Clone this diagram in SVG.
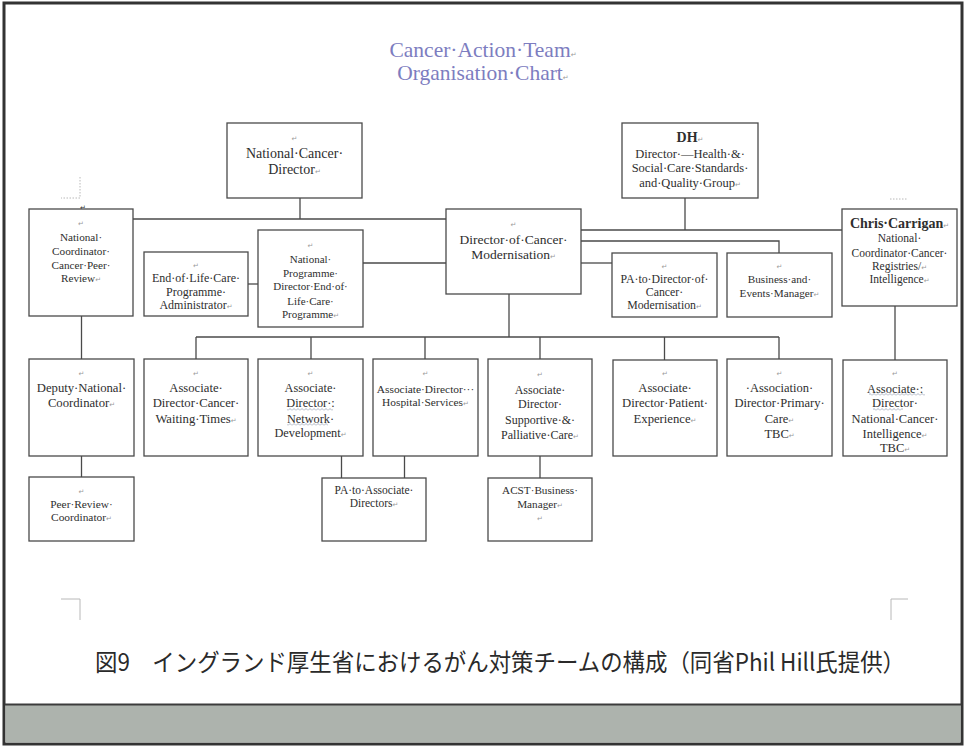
<svg xmlns="http://www.w3.org/2000/svg" width="965" height="746" viewBox="0 0 965 746">
<style>
.box{fill:#fff;stroke:#4a4a4a;stroke-width:1.3}
.conn path{fill:none;stroke:#4a4a4a;stroke-width:1.3}
.crop path{fill:none;stroke:#b8b8b8;stroke-width:1}
text.n{font-family:"Liberation Serif","Times New Roman",serif;fill:#2e2e2e;text-anchor:middle}
.b{font-weight:bold;font-size:14px}
.m{font-family:"DejaVu Sans",sans-serif;font-size:7px;fill:#9a9a9a;font-weight:normal}
.s14{font-size:14px}.s135{font-size:13.5px}.s127{font-size:12.7px}.s125{font-size:12.5px}.s123{font-size:12.3px}
.s12{font-size:12px}.s118{font-size:11.8px}.s115{font-size:11.5px}.s114{font-size:11.4px}.s112{font-size:11.2px}.s11{font-size:11px}
.title{font-family:"Liberation Serif","Times New Roman",serif;font-size:21.5px;fill:#7d7dc0;text-anchor:middle}
.cap{font-family:"Noto Sans CJK JP","Noto Sans CJK SC",sans-serif;font-size:24px;fill:#2a2a2a}
</style>
<defs>
<pattern id="zz" width="4" height="3" patternUnits="userSpaceOnUse"><path d="M0 2.5L2 0.5L4 2.5" fill="none" stroke="#98a2b4" stroke-width="0.8"/></pattern>
</defs>
<rect x="4" y="3" width="958" height="741" fill="#fff" stroke="#333" stroke-width="3"/>
<rect x="5.5" y="705" width="955" height="37.5" fill="#adb3ad"/>
<path d="M5 704.5H961" stroke="#3c3c3c" stroke-width="2"/>

<g id="title">
<text class="title" x="483" y="57">Cancer·Action·Team<tspan class="m">↵</tspan></text>
<text class="title" x="483" y="80">Organisation·Chart<tspan class="m">↵</tspan></text>
</g>

<g class="crop">
<path d="M80 177V198H61" stroke-dasharray="1.5 1.5"/>
<path d="M890 199H907" stroke-dasharray="1.5 1.5"/>
<path d="M61 599H80V620"/>
<path d="M908 599H891V620"/>
</g>
<text class="n m" x="83" y="210">↵</text>

<g class="conn">
<path d="M300 198V219"/>
<path d="M133 219H446"/>
<path d="M81.5 316V359"/>
<path d="M81.5 456V477"/>
<path d="M248 284H258"/>
<path d="M363 263H446"/>
<path d="M581 230H842"/>
<path d="M685 198V230"/>
<path d="M581 241H779V253"/>
<path d="M581 263H612"/>
<path d="M509 294V337"/>
<path d="M196 337H779"/>
<path d="M196 337V359M311 337V359M425 337V359M540 337V359M664.5 337V360M779 337V359"/>
<path d="M895 306V360"/>
<path d="M341.5 456V478M404.5 456V478"/>
<path d="M540 456V478"/>
</g>

<g id="ncd"><rect class="box" x="227" y="123" width="135" height="75"/>
<text class="n s14"><tspan class="m" x="294.5" y="141">↵</tspan><tspan x="294.5" y="157.5">National·Cancer·</tspan><tspan x="294.5" y="173.5">Director<tspan class="m">↵</tspan></tspan></text></g>

<g id="nccpr"><rect class="box" x="29" y="209" width="104" height="107"/>
<text class="n s112"><tspan class="m" x="81" y="226">↵</tspan><tspan x="81" y="241">National·</tspan><tspan x="81" y="255">Coordinator·</tspan><tspan x="81" y="268.5">Cancer·Peer·</tspan><tspan x="81" y="282">Review<tspan class="m">↵</tspan></tspan></text></g>

<g id="eoladmin"><rect class="box" x="144" y="252" width="104" height="64"/>
<text class="n s12"><tspan class="m" x="196" y="268">↵</tspan><tspan x="196" y="282">End·of·Life·Care·</tspan><tspan x="196" y="296">Programme·</tspan><tspan x="196" y="308.5">Administrator<tspan class="m">↵</tspan></tspan></text></g>

<g id="npdeol"><rect class="box" x="258" y="230" width="105" height="97"/>
<text class="n s11"><tspan class="m" x="310.5" y="248">↵</tspan><tspan x="310.5" y="262.5">National·</tspan><tspan x="310.5" y="277">Programme·</tspan><tspan x="310.5" y="290">Director·End·of·</tspan><tspan x="310.5" y="304.5">Life·Care·</tspan><tspan x="310.5" y="317.5">Programme<tspan class="m">↵</tspan></tspan></text></g>

<g id="dcm"><rect class="box" x="446" y="209" width="135" height="85"/>
<text class="n s135"><tspan class="m" x="513.5" y="227">↵</tspan><tspan x="513.5" y="243.5">Director·of·Cancer·</tspan><tspan x="513.5" y="259">Modernisation<tspan class="m">↵</tspan></tspan></text></g>

<g id="dh"><rect class="box" x="622" y="123" width="136" height="75"/>
<text class="n s125"><tspan class="b" x="690" y="142">DH<tspan class="m">↵</tspan></tspan><tspan x="690" y="157.5">Director·—Health·&amp;·</tspan><tspan x="690" y="172">Social·Care·Standards·</tspan><tspan x="690" y="187">and·Quality·Group<tspan class="m">↵</tspan></tspan></text></g>

<g id="padcm"><rect class="box" x="612" y="253" width="105" height="64"/>
<text class="n s118"><tspan class="m" x="664.5" y="269">↵</tspan><tspan x="664.5" y="282.5">PA·to·Director·of·</tspan><tspan x="664.5" y="295.5">Cancer·</tspan><tspan x="664.5" y="309">Modernisation<tspan class="m">↵</tspan></tspan></text></g>

<g id="bem"><rect class="box" x="727" y="253" width="105" height="64"/>
<text class="n s112"><tspan class="m" x="779.5" y="269">↵</tspan><tspan x="779.5" y="282.5">Business·and·</tspan><tspan x="779.5" y="296.5">Events·Manager<tspan class="m">↵</tspan></tspan></text></g>

<g id="chris"><rect class="box" x="842" y="209" width="115" height="97"/>
<text class="n s115"><tspan class="b" x="899.5" y="228">Chris·Carrigan<tspan class="m">↵</tspan></tspan><tspan x="899.5" y="241.5">National·</tspan><tspan x="899.5" y="256.5">Coordinator·Cancer·</tspan><tspan x="899.5" y="269.5">Registries/<tspan class="m">↵</tspan></tspan><tspan x="899.5" y="283">Intelligence<tspan class="m">↵</tspan></tspan></text></g>

<g id="deputy"><rect class="box" x="29" y="359" width="105" height="97"/>
<text class="n s127"><tspan class="m" x="81.5" y="376">↵</tspan><tspan x="81.5" y="391.5">Deputy·National·</tspan><tspan x="81.5" y="407">Coordinator<tspan class="m">↵</tspan></tspan></text></g>

<g id="prc"><rect class="box" x="29" y="477" width="105" height="64"/>
<text class="n s114"><tspan class="m" x="81.5" y="494">↵</tspan><tspan x="81.5" y="507.5">Peer·Review·</tspan><tspan x="81.5" y="521">Coordinator<tspan class="m">↵</tspan></tspan></text></g>

<g id="adcwt"><rect class="box" x="144" y="359" width="104" height="97"/>
<text class="n s127"><tspan class="m" x="196" y="376">↵</tspan><tspan x="196" y="391.5">Associate·</tspan><tspan x="196" y="407">Director·Cancer·</tspan><tspan x="196" y="422.5">Waiting·Times<tspan class="m">↵</tspan></tspan></text></g>

<g id="adnd"><rect class="box" x="258" y="359" width="105" height="97"/>
<text class="n s123"><tspan class="m" x="310.5" y="376">↵</tspan><tspan x="310.5" y="391.5">Associate·</tspan><tspan x="310.5" y="407">Director·:</tspan><tspan x="310.5" y="422.5">Network·</tspan><tspan x="310.5" y="437">Development<tspan class="m">↵</tspan></tspan></text></g>

<g id="adhs"><rect class="box" x="373" y="359" width="105" height="97"/>
<text class="n s114"><tspan class="m" x="425.5" y="376">↵</tspan><tspan x="425.5" y="392.5">Associate·Director···</tspan><tspan x="425.5" y="405.5">Hospital·Services<tspan class="m">↵</tspan></tspan></text></g>

<g id="adspc"><rect class="box" x="488" y="359" width="104" height="97"/>
<text class="n s12"><tspan class="m" x="540" y="377">↵</tspan><tspan x="540" y="393.5">Associate·</tspan><tspan x="540" y="408">Director·</tspan><tspan x="540" y="423.5">Supportive·&amp;·</tspan><tspan x="540" y="438.5">Palliative·Care<tspan class="m">↵</tspan></tspan></text></g>

<g id="paad"><rect class="box" x="322" y="478" width="104" height="63"/>
<text class="n s115"><tspan x="374" y="494">PA·to·Associate·</tspan><tspan x="374" y="507">Directors<tspan class="m">↵</tspan></tspan></text></g>

<g id="acst"><rect class="box" x="488" y="478" width="104" height="63"/>
<text class="n s112"><tspan x="540" y="494">ACST·Business·</tspan><tspan x="540" y="508">Manager<tspan class="m">↵</tspan></tspan><tspan class="m" x="540" y="521">↵</tspan></text></g>

<g id="adpe"><rect class="box" x="613" y="360" width="104" height="96"/>
<text class="n s127"><tspan class="m" x="665" y="376">↵</tspan><tspan x="665" y="391.5">Associate·</tspan><tspan x="665" y="407">Director·Patient·</tspan><tspan x="665" y="422.5">Experience<tspan class="m">↵</tspan></tspan></text></g>

<g id="adpc"><rect class="box" x="727" y="359" width="105" height="97"/>
<text class="n s125"><tspan class="m" x="779.5" y="376">↵</tspan><tspan x="779.5" y="391.5">·Association·</tspan><tspan x="779.5" y="407">Director·Primary·</tspan><tspan x="779.5" y="422.5">Care<tspan class="m">↵</tspan></tspan><tspan x="779.5" y="437.5">TBC<tspan class="m">↵</tspan></tspan></text></g>

<g id="adnci"><rect class="box" x="843" y="360" width="104" height="96"/>
<text class="n s125"><tspan class="m" x="895" y="376">↵</tspan><tspan x="895" y="392.5">Associate·:</tspan><tspan x="895" y="407">Director·</tspan><tspan x="895" y="423">National·Cancer·</tspan><tspan x="895" y="437.5">Intelligence<tspan class="m">↵</tspan></tspan><tspan x="895" y="451.5">TBC<tspan class="m">↵</tspan></tspan></text></g>

<g id="squiggles">
<rect x="287" y="408" width="46" height="3" fill="url(#zz)"/>
<rect x="287" y="423" width="41" height="3" fill="url(#zz)"/>
<rect x="869" y="393" width="56" height="3" fill="url(#zz)"/>
<rect x="873" y="408" width="30" height="3" fill="url(#zz)"/>
</g>

<text class="cap" transform="translate(95 671) scale(0.935 1)" x="0" y="0">図9　イングランド厚生省におけるがん対策チームの構成（同省Phil Hill氏提供）</text>
</svg>
